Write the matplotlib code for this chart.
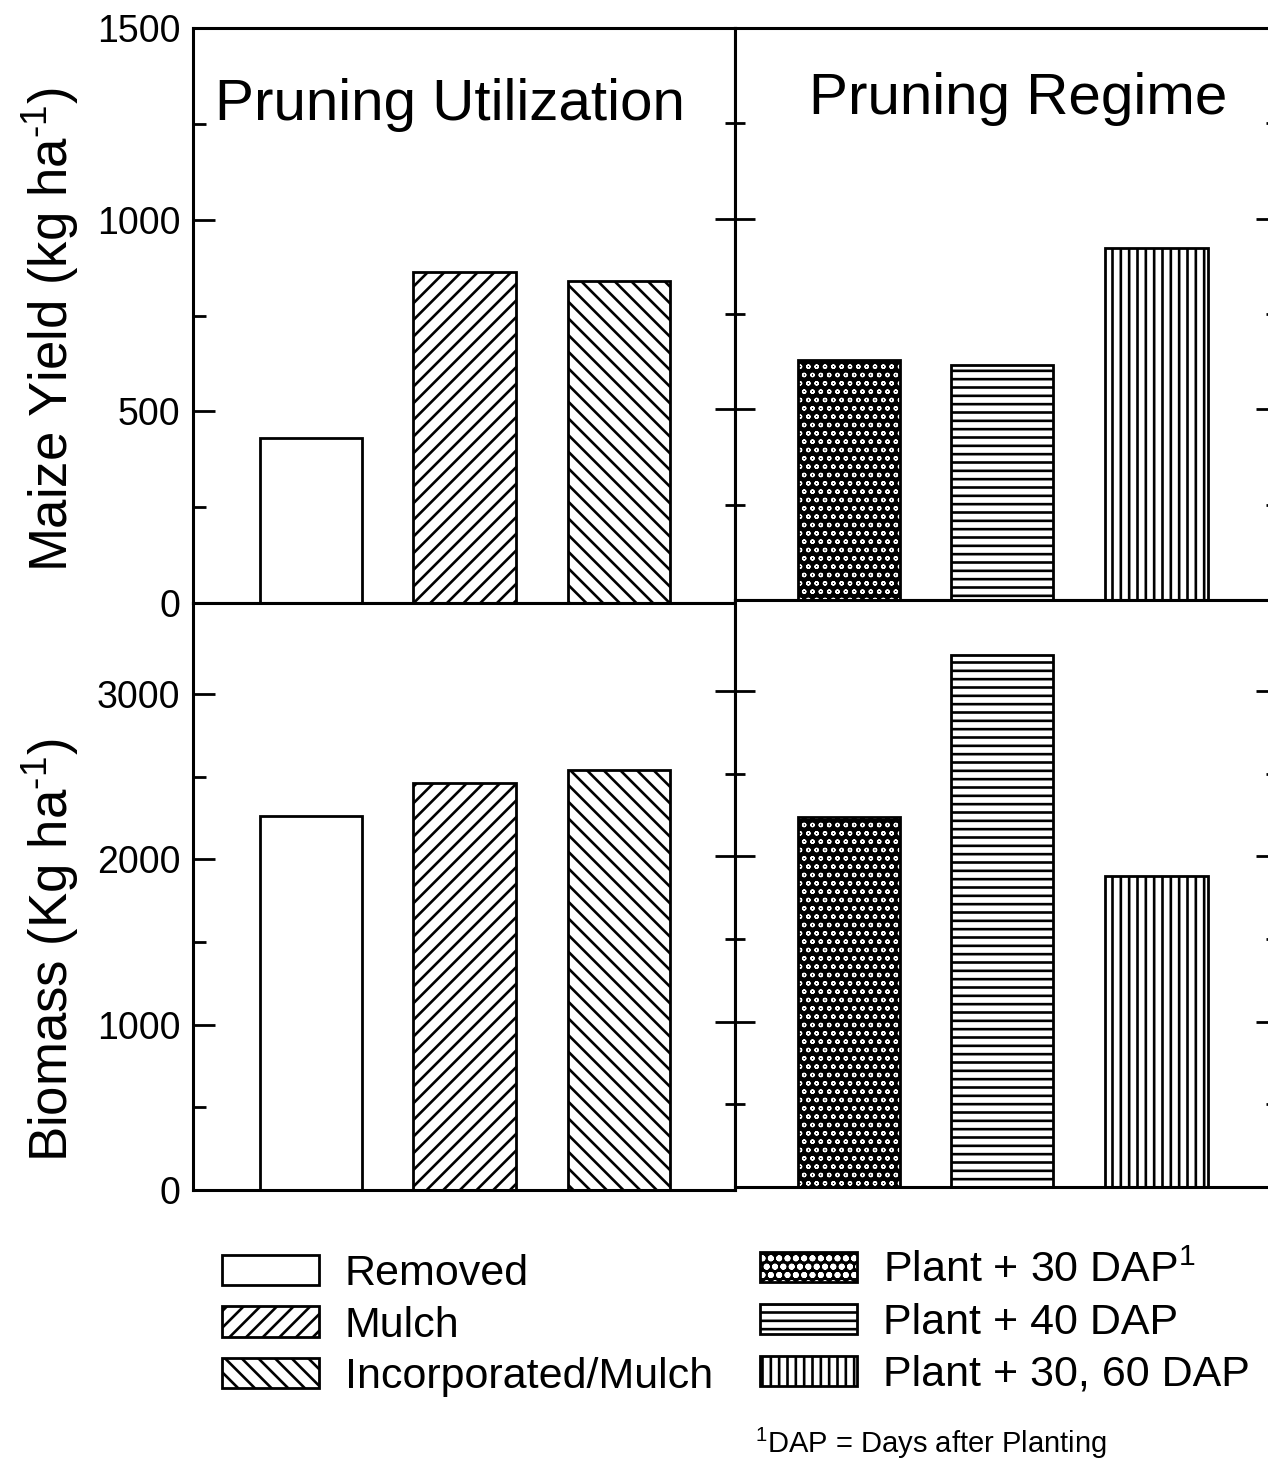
import numpy as np
import matplotlib
matplotlib.use('Agg')
import matplotlib.pyplot as plt
from matplotlib.patches import Patch
from matplotlib.ticker import FixedLocator

plt.rcParams.update({
    'font.family': ['Liberation Sans', 'DejaVu Sans'],
    'mathtext.fontset': 'custom',
    'mathtext.rm': 'Liberation Sans',
    'mathtext.it': 'Liberation Sans:italic',
    'mathtext.bf': 'Liberation Sans:bold',
    'hatch.linewidth': 1.9,
    'axes.linewidth': 2.2,
})

DOT_LW = 0.9   # hatch width for the dotted (crosshatch-look) bars

# ---------------------------------------------------------------------------
# data
# ---------------------------------------------------------------------------
util_labels = ["Removed", "Mulch", "Incorporated/Mulch"]
util_yield = [430, 864, 840]
util_biomass = [2263, 2462, 2541]

regime_labels = ["Plant + 30 DAP$^1$", "Plant + 40 DAP", "Plant + 30, 60 DAP"]
regime_yield = [629, 616, 924]
regime_biomass = [2238, 3218, 1881]

# None -> black bar with white dots (dense crosshatch look)
util_hatch = ['', '//', '\\\\']
regime_hatch = [None, '--', '||']

W, H = 1268, 1459
fig = plt.figure(figsize=(W / 100, H / 100), dpi=100)


def px_axes(x0, y0, x1, y1):
    # pixel box (top-left origin) -> figure axes
    return fig.add_axes([x0 / W, 1 - y1 / H, (x1 - x0) / W, (y1 - y0) / H])


ax_ul = px_axes(193, 28, 735, 603)
ax_ur = px_axes(735, 28, 1276, 600)
ax_ll = px_axes(193, 603, 735, 1190)
ax_lr = px_axes(735, 600, 1276, 1187)

left_pos = np.array([0.768, 1.767, 2.770])
right_pos = np.array([0.742, 1.737, 2.742])
bar_w = 0.665


def thin_hatch(artist):
    # draw this artist with a thinner hatch line
    orig = artist.draw

    def draw(renderer):
        with matplotlib.rc_context({'hatch.linewidth': DOT_LW}):
            orig(renderer)
    artist.draw = draw


def draw(ax, pos, vals, hatches):
    for p, v, h in zip(pos, vals, hatches):
        if h is None:
            with matplotlib.rc_context({'hatch.linewidth': DOT_LW}):
                bc = ax.bar(p, v, width=bar_w, color='black', edgecolor='white',
                            linewidth=0, hatch='oo')
            for b in bc:
                thin_hatch(b)
            ax.bar(p, v, width=bar_w, color='none', edgecolor='black', linewidth=2.0)
        else:
            ax.bar(p, v, width=bar_w, color='white', edgecolor='black',
                   linewidth=2.0, hatch=h)


draw(ax_ul, left_pos, util_yield, util_hatch)
draw(ax_ll, left_pos, util_biomass, util_hatch)
draw(ax_ur, right_pos, regime_yield, regime_hatch)
draw(ax_lr, right_pos, regime_biomass, regime_hatch)

for ax in (ax_ul, ax_ll):
    ax.set_xlim(0, 542 / 153.7)
for ax in (ax_ur, ax_lr):
    ax.set_xlim(0, 541 / 153.7)

ax_ul.set_ylim(0, 1500)
ax_ul.yaxis.set_major_locator(FixedLocator([0, 500, 1000, 1500]))
ax_ul.yaxis.set_minor_locator(FixedLocator([250, 750, 1250]))
ax_ur.set_ylim(0, 1500)
ax_ur.yaxis.set_major_locator(FixedLocator([500, 1000, 1500]))
ax_ur.yaxis.set_minor_locator(FixedLocator([250, 750, 1250]))

ax_ll.set_ylim(0, 3550)
ax_ll.yaxis.set_major_locator(FixedLocator([0, 1000, 2000, 3000]))
ax_ll.yaxis.set_minor_locator(FixedLocator([500, 1500, 2500]))
ax_lr.set_ylim(0, 3550)
ax_lr.yaxis.set_major_locator(FixedLocator([1000, 2000, 3000]))
ax_lr.yaxis.set_minor_locator(FixedLocator([500, 1500, 2500]))

for ax in (ax_ul, ax_ur, ax_ll, ax_lr):
    ax.set_xticks([])

for ax in (ax_ul, ax_ll):
    ax.tick_params(axis='y', which='major', direction='in', length=16, width=2,
                   labelsize=27, pad=9)
    ax.tick_params(axis='y', which='minor', direction='in', length=9, width=2)
for ax in (ax_ur, ax_lr):
    ax.tick_params(axis='y', which='major', direction='inout', length=29, width=2,
                   left=True, right=True, labelleft=False)
    ax.tick_params(axis='y', which='minor', direction='inout', length=14, width=2,
                   left=True, right=True)

ax_ul.set_ylabel(r"Maize Yield (kg ha$^{\text{-}1}$)", fontsize=38)
ax_ll.set_ylabel(r"Biomass (Kg ha$^{\text{-}1}$)", fontsize=38)
ax_ul.yaxis.set_label_coords(-0.207, 0.475)
ax_ll.yaxis.set_label_coords(-0.207, 0.409)

ax_ul.text(0.474, 0.866, "Pruning Utilization", transform=ax_ul.transAxes,
           ha='center', va='center', fontsize=42)
ax_ur.text(0.524, 0.875, "Pruning Regime", transform=ax_ur.transAxes,
           ha='center', va='center', fontsize=42)

# legends
def handle(h):
    if h is None:
        return (Patch(facecolor='black', edgecolor='white', hatch='oo', linewidth=0),
                Patch(facecolor='none', edgecolor='black', linewidth=2))
    return Patch(facecolor='white', edgecolor='black', hatch=h, linewidth=2)


util_handles = [handle(h) for h in util_hatch]
regime_handles = [handle(h) for h in regime_hatch]

leg_kw = dict(frameon=False, fontsize=31, handlelength=2.25, handleheight=0.7,
              handletextpad=0.6, labelspacing=0.27, borderpad=0, borderaxespad=0)
fig.legend(util_handles, util_labels, loc='upper left',
           bbox_to_anchor=(222 / W, 1 - 1254 / H), **leg_kw)
leg2 = fig.legend(regime_handles, regime_labels, loc='upper left',
                  bbox_to_anchor=(760 / W, 1 - 1251 / H), **leg_kw)
thin_hatch(leg2)

fig.text(755 / W, 1 - 1453 / H, "$^1$DAP = Days after Planting", fontsize=21,
         ha='left', va='baseline')

fig.savefig("out.png", dpi=100)
